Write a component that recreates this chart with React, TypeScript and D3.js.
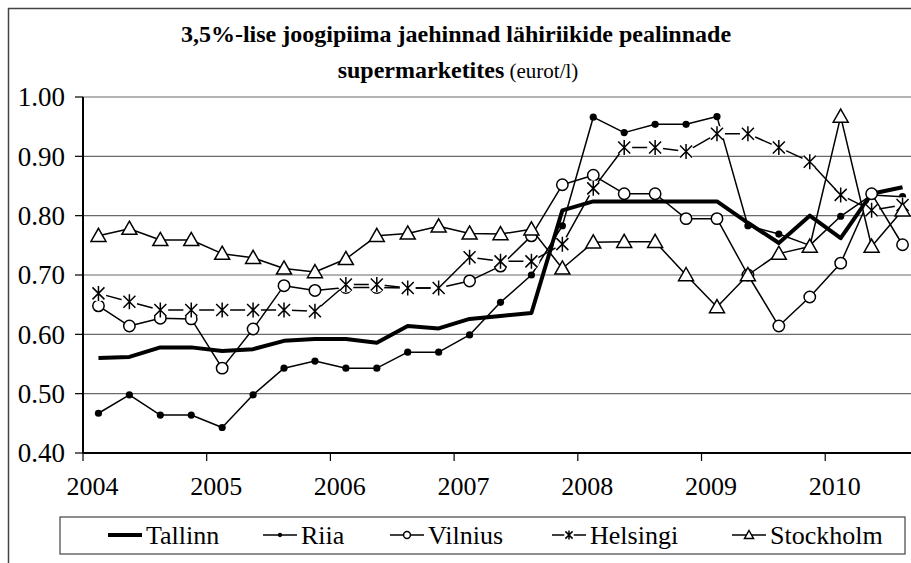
import * as d3 from "d3";

// quarterly observations, 2004 Q1 .. 2010 Q3
const years = ["2004", "2005", "2006", "2007", "2008", "2009", "2010"];
const quarters = years.flatMap((y) => [1, 2, 3, 4].map((q) => `${y}-${q}`)).slice(0, 27);

const tallinn = [0.560, 0.562, 0.578, 0.578, 0.572, 0.575, 0.589, 0.592, 0.592, 0.586, 0.614, 0.610, 0.626, 0.631, 0.636, 0.809, 0.824, 0.824, 0.824, 0.824, 0.824, 0.788, 0.754, 0.800, 0.762, 0.837, 0.848];
const riia = [0.467, 0.498, 0.464, 0.464, 0.443, 0.498, 0.543, 0.555, 0.543, 0.543, 0.570, 0.570, 0.599, 0.654, 0.700, 0.783, 0.966, 0.940, 0.954, 0.954, 0.967, 0.783, 0.769, 0.750, 0.799, 0.835, 0.832];
const vilnius = [0.648, 0.614, 0.627, 0.626, 0.543, 0.609, 0.682, 0.674, 0.679, 0.679, 0.678, 0.678, 0.690, 0.715, 0.766, 0.852, 0.868, 0.837, 0.837, 0.795, 0.795, 0.700, 0.614, 0.663, 0.720, 0.837, 0.751];
const helsingi = [0.669, 0.655, 0.641, 0.641, 0.641, 0.641, 0.641, 0.639, 0.684, 0.684, 0.678, 0.678, 0.730, 0.723, 0.723, 0.752, 0.846, 0.915, 0.915, 0.908, 0.938, 0.938, 0.915, 0.891, 0.835, 0.809, 0.818];
const stockholm = [0.766, 0.778, 0.759, 0.759, 0.736, 0.729, 0.711, 0.705, 0.727, 0.766, 0.770, 0.782, 0.770, 0.769, 0.777, 0.711, 0.755, 0.756, 0.756, 0.700, 0.646, 0.700, 0.736, 0.748, 0.967, 0.748, 0.809];

const yTicks = [0.4, 0.5, 0.6, 0.7, 0.8, 0.9, 1.0];

type Marker = "none" | "dot" | "circle" | "star" | "triangle";
const series: { name: string; values: number[]; marker: Marker; width: number }[] = [
  { name: "Tallinn", values: tallinn, marker: "none", width: 4 },
  { name: "Riia", values: riia, marker: "dot", width: 1.5 },
  { name: "Vilnius", values: vilnius, marker: "circle", width: 1.5 },
  { name: "Helsingi", values: helsingi, marker: "star", width: 1.5 },
  { name: "Stockholm", values: stockholm, marker: "triangle", width: 1.5 },
];

const FONT = "Liberation Serif";
const fontCss = `svg text, svg tspan { font-family: "Liberation Serif", "Times New Roman", serif !important; }`;

const left = 83, right = 918, top = 97, bottom = 453;
const x = d3.scaleBand<string>().domain(quarters).range([left, right]).padding(0);
const cx = (i: number) => (x(quarters[i]) as number) + x.bandwidth() / 2;
const y = d3.scaleLinear().domain([0.4, 1.0]).range([bottom, top]);
const fmt = d3.format(".2f");

function MarkerShape({ kind, s }: { kind: Marker; s: number }) {
  if (kind === "dot") return <circle r={3.6 * s} fill="#000" />;
  if (kind === "circle") return <circle r={5.7 * s} fill="#fff" stroke="#000" strokeWidth={1.5} />;
  if (kind === "star") {
    const a = 6 * s, b = 7.5 * s;
    return (
      <g>
        <circle r={8 * s} fill="#fff" />
        <path d={`M0,${-b}L0,${b}M${-a},${-a}L${a},${a}M${-a},${a}L${a},${-a}`} stroke="#000" strokeWidth={1.5} fill="none" />
      </g>
    );
  }
  if (kind === "triangle") {
    const r = 7.5 * s;
    return <path d={`M0,${-r}L${r},${r * 0.75}L${-r},${r * 0.75}Z`} fill="#fff" stroke="#000" strokeWidth={1.5} />;
  }
  return null;
}

const legendX = [108, 263, 390, 552, 732];

export default function App() {
  const line = d3.line<number>().x((_, i) => cx(i)).y((d) => y(d));

  return (
    <svg width={911} height={563} fontFamily={FONT} style={{ display: "block", position: "absolute", left: 0, top: 0 }}>
      <style>{fontCss}</style>
      {/* outer frame */}
      <rect x={8.5} y={8.5} width={940} height={620} fill="#fff" stroke="#444" strokeWidth={1.5} />

      {/* title */}
      <text x={456} y={42} textAnchor="middle" fontSize={24} fontWeight="bold" style={{ fontFamily: `"${FONT}"` }}>
        3,5%-lise joogipiima jaehinnad lähiriikide pealinnade
      </text>
      <text x={458} y={78} textAnchor="middle" fontSize={24} style={{ fontFamily: `"${FONT}"` }}>
        <tspan fontWeight="bold">supermarketites</tspan>
        <tspan fontSize={21}> (eurot/l)</tspan>
      </text>

      {/* gridlines */}
      {yTicks.filter((t) => t > 0.4).map((t) => (
        <line key={t} x1={left} x2={right} y1={y(t)} y2={y(t)} stroke="#6a6a6a" strokeWidth={1.2} />
      ))}

      {/* y axis */}
      <line x1={left} x2={left} y1={top} y2={bottom} stroke="#000" strokeWidth={2} />
      {yTicks.map((t) => (
        <g key={t} transform={`translate(0,${y(t)})`}>
          <line x1={left - 8} x2={left} stroke="#000" strokeWidth={1.2} />
          <text x={left - 18} dy="0.34em" textAnchor="end" fontSize={27} style={{ fontFamily: `"${FONT}"` }}>{fmt(t)}</text>
        </g>
      ))}

      {/* x axis: ticks between years, labels on first quarter */}
      <line x1={left} x2={right} y1={bottom} y2={bottom} stroke="#000" strokeWidth={2} />
      {quarters.map((q, i) => i % 4 === 0 && (
        <g key={q}>
          <line x1={x(q)} x2={x(q)} y1={bottom} y2={bottom + 8} stroke="#000" strokeWidth={1.2} />
          <text x={cx(i) - 6} y={495} textAnchor="middle" fontSize={26} style={{ fontFamily: `"${FONT}"` }}>{q.slice(0, 4)}</text>
        </g>
      ))}

      {/* series */}
      {series.map((s) => (
        <g key={s.name}>
          <path d={line(s.values) ?? ""} fill="none" stroke="#000" strokeWidth={s.width} strokeLinejoin="round" />
          {s.marker !== "none" && s.values.map((v, i) => (
            <g key={i} transform={`translate(${cx(i)},${y(v)})`}>
              <MarkerShape kind={s.marker} s={1} />
            </g>
          ))}
        </g>
      ))}

      {/* legend */}
      <rect x={60} y={517} width={845} height={37} fill="#fff" stroke="#444" strokeWidth={1.2} />
      {series.map((s, i) => {
        const lx = legendX[i];
        const ly = 535;
        return (
          <g key={s.name}>
            <line x1={lx} x2={lx + 34} y1={ly} y2={ly} stroke="#000" strokeWidth={s.width} />
            <g transform={`translate(${lx + 17},${ly})`}>
              <MarkerShape kind={s.marker} s={0.6} />
            </g>
            <text x={lx + 38} y={ly + 9} fontSize={26} style={{ fontFamily: `"${FONT}"` }}>{s.name}</text>
          </g>
        );
      })}
    </svg>
  );
}
